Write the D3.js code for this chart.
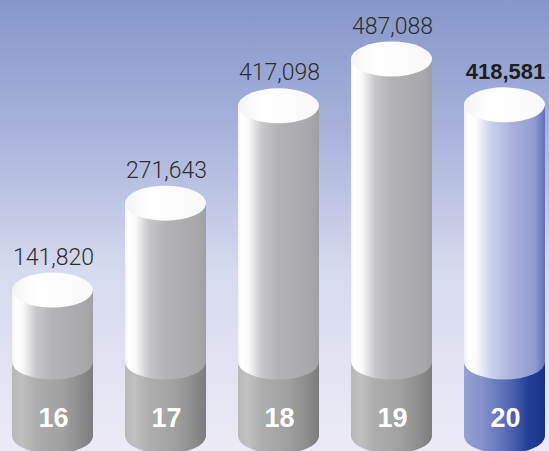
<!DOCTYPE html>
<html>
<head>
<meta charset="utf-8">
<script src="https://cdn.jsdelivr.net/npm/d3@7"></script>
<style>
  html, body { margin: 0; padding: 0; }
  svg { display: block; }
</style>
</head>
<body>
<svg id="chart" width="549" height="451"></svg>
<script>
// Yearly totals, one cylinder per year
const years = ["16", "17", "18", "19", "20"];
const values = [141820, 271643, 417098, 487088, 418581];
const valueLabels = ["141,820", "271,643", "417,098", "487,088", "418,581"];
const highlightYear = "20";

const W = 549, H = 451;
const svg = d3.select("#chart");
const defs = svg.append("defs");

// background wash: blue at the top fading to a pale lavender
const bg = defs.append("linearGradient").attr("id", "bg")
  .attr("x1", 0).attr("y1", 0).attr("x2", 0).attr("y2", 1);
[[0, "#8697c9"], [0.3, "#a9b3dc"], [0.6, "#d6daee"], [1, "#ecebf5"]]
  .forEach(([o, c]) => bg.append("stop").attr("offset", o).attr("stop-color", c));
svg.append("rect").attr("width", W).attr("height", H).attr("fill", "url(#bg)");

function hGrad(id, stops) {
  const g = defs.append("linearGradient").attr("id", id)
    .attr("x1", 0).attr("y1", 0).attr("x2", 1).attr("y2", 0);
  stops.forEach(([o, c]) => g.append("stop").attr("offset", o).attr("stop-color", c));
}
// gray cylinders
hGrad("grayUpper", [[0, "#f2f2f2"], [0.04, "#ffffff"], [0.13, "#fafafa"], [0.3, "#c6c6c8"], [0.5, "#b3b3b5"], [0.9, "#a8a8aa"], [1, "#a0a0a3"]]);
hGrad("grayLower", [[0, "#b8b8b8"], [0.12, "#c0c0c0"], [0.3, "#adadad"], [0.6, "#a2a2a2"], [0.85, "#8c8c8c"], [1, "#7c7c7c"]]);
// highlighted year
hGrad("blueUpper", [[0, "#eef0fa"], [0.05, "#ffffff"], [0.15, "#fbfbfe"], [0.33, "#ccd1ec"], [0.6, "#aab2dc"], [0.88, "#8e9bd0"], [1, "#6070b8"]]);
hGrad("blueLower", [[0, "#94a0d6"], [0.2, "#8794cd"], [0.55, "#5668b4"], [0.8, "#223f96"], [1, "#17328a"]]);
hGrad("cap", [[0, "#f4f4f4"], [0.3, "#ffffff"], [1, "#f8f8f8"]]);

const x = d3.scaleBand().domain(years).range([12, 545]).paddingInner(0.283).paddingOuter(0);
const y = d3.scaleLinear().domain([0, d3.max(values)]).range([385, 59]);

const ry = 17.5;          // ellipse half-height of every cap
const bandY = 362;        // where the dark base section starts
const baseY = 436;        // centre of the bottom ellipse

const data = years.map((yr, i) => ({ yr, v: values[i], label: valueLabels[i] }));

const g = svg.selectAll("g.cyl").data(data).enter().append("g").attr("class", "cyl");

function bodyPath(cx, rx, yTop, yBot) {
  // rectangle from yTop to yBot closed by the lower half of an ellipse at yBot
  return `M${cx - rx},${yTop} L${cx - rx},${yBot} A${rx},${ry} 0 0 0 ${cx + rx},${yBot} L${cx + rx},${yTop} Z`;
}

g.each(function(d) {
  const sel = d3.select(this);
  const rx = x.bandwidth() / 2;
  const cx = x(d.yr) + rx;
  const top = y(d.v);
  const hi = d.yr === highlightYear;
  sel.append("path").attr("d", bodyPath(cx, rx, bandY, baseY))
    .attr("fill", hi ? "url(#blueLower)" : "url(#grayLower)");
  sel.append("path").attr("d", bodyPath(cx, rx, top, bandY))
    .attr("fill", hi ? "url(#blueUpper)" : "url(#grayUpper)");
  sel.append("ellipse").attr("cx", cx).attr("cy", top).attr("rx", rx).attr("ry", ry)
    .attr("fill", "url(#cap)");
  sel.append("text").attr("x", cx + 1).attr("y", 427)
    .attr("text-anchor", "middle")
    .attr("font-family", "Liberation Sans, Arial, sans-serif")
    .attr("font-weight", "bold").attr("font-size", 27).attr("fill", "#ffffff")
    .text(d.yr);
  sel.append("text").attr("x", cx + 1).attr("y", top - ry - 8)
    .attr("text-anchor", "middle")
    .attr("font-family", hi ? "Liberation Sans, Arial, sans-serif" : "Roboto, Liberation Sans, sans-serif")
    .attr("font-weight", hi ? "bold" : 300)
    .attr("font-size", hi ? 22 : 23)
    .attr("fill", hi ? "#1e1e1e" : "#2e2e2e")
    .text(d.label);
});
</script>
</body>
</html>
